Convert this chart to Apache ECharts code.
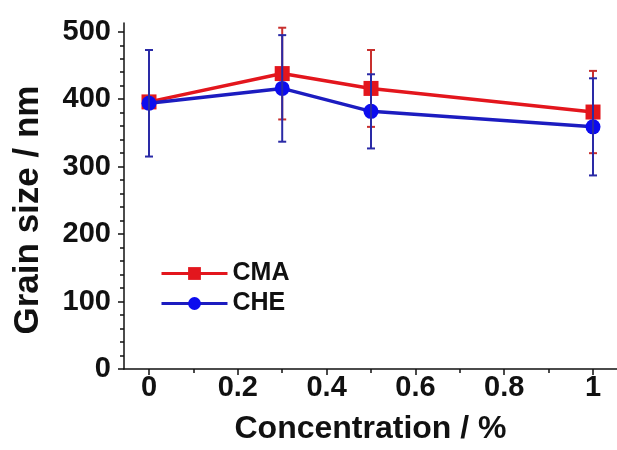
<!DOCTYPE html>
<html>
<head>
<meta charset="utf-8">
<script src="https://cdn.jsdelivr.net/npm/echarts@6/dist/echarts.min.js"></script>
<style>html,body{margin:0;padding:0;background:#fff}#c{width:617px;height:450px}</style>
</head>
<body>
<div id="c"></div>
<script>
// data
const concentration = [0, 0.3, 0.5, 1];
const cmaSize = [396, 438, 416, 381];
const cmaErr = [8, 68, 57, 61];
const cheSize = [394, 416, 382, 359];
const cheErr = [79, 79, 55, 72];
const yTicks = [0, 100, 200, 300, 400, 500];
const yMinorTicks = [20,40,60,80,120,140,160,180,220,240,260,280,320,340,360,380,420,440,460,480];
const xTicks = [0, 0.2, 0.4, 0.6, 0.8, 1];
const xMinorTicks = [0.1, 0.3, 0.5, 0.7, 0.9];

const FONT = '"Liberation Sans", Arial, sans-serif';
const RED = '#e3161d', RED_ERR = '#c8302e';
const BLUE = '#1c1cc0', BLUE_MK = '#0c0cee', BLUE_ERR = '#2a2aa6';

function errData(sizes, errs) {
  return concentration.map((x, i) => [x, sizes[i], errs[i]]);
}
function errRender(color) {
  return function (params, api) {
    const x = api.value(0), y = api.value(1), e = api.value(2);
    const top = api.coord([x, y + e]);
    const bot = api.coord([x, y - e]);
    const w = 4;
    const style = { stroke: color, lineWidth: 2 };
    return {
      type: 'group',
      children: [
        { type: 'line', shape: { x1: top[0], y1: top[1], x2: bot[0], y2: bot[1] }, style },
        { type: 'line', shape: { x1: top[0] - w, y1: top[1], x2: top[0] + w, y2: top[1] }, style },
        { type: 'line', shape: { x1: bot[0] - w, y1: bot[1], x2: bot[0] + w, y2: bot[1] }, style }
      ]
    };
  };
}

const chart = echarts.init(document.getElementById('c'), null, { renderer: 'canvas' });
const axisColor = '#111';
chart.setOption({
  animation: false,
  backgroundColor: '#fff',
  grid: { left: 124, right: 0, top: 23, bottom: 81 },
  legend: {
    data: ['CMA', 'CHE'],
    orient: 'vertical',
    left: 155, top: 256,
    itemWidth: 66, itemHeight: 16, itemGap: 5,
    lineStyle: { width: 3 },
    textStyle: { fontFamily: FONT, fontWeight: 'bold', fontSize: 25, color: '#111' }
  },
  xAxis: [{
    type: 'value', min: -0.0563, max: 1.054,
    axisLine: { onZero: false, lineStyle: { color: axisColor, width: 1.5 } },
    axisTick: { show: true, customValues: xTicks, length: 6, lineStyle: { color: axisColor, width: 1.5 } },
    axisLabel: { customValues: xTicks, margin: 4, fontFamily: FONT, fontWeight: 'bold', fontSize: 29, color: '#111' },
    splitLine: { show: false },
    name: 'Concentration / %', nameLocation: 'middle', nameGap: 44,
    nameTextStyle: { fontFamily: FONT, fontWeight: 'bold', fontSize: 32, color: '#111' }
  }, {
    type: 'value', min: -0.0563, max: 1.054, position: 'bottom',
    axisLine: { show: false, onZero: false },
    axisTick: { show: true, customValues: xMinorTicks, length: 4, lineStyle: { color: axisColor, width: 1.5 } },
    axisLabel: { show: false }, splitLine: { show: false }
  }],
  yAxis: [{
    type: 'value', min: 0, max: 513,
    axisLine: { show: true, onZero: false, lineStyle: { color: axisColor, width: 1.5 } },
    axisTick: { show: true, customValues: yTicks, length: 6, lineStyle: { color: axisColor, width: 1.5 } },
    axisLabel: { customValues: yTicks, margin: 13, fontFamily: FONT, fontWeight: 'bold', fontSize: 29, color: '#111' },
    splitLine: { show: false },
    name: 'Grain size / nm', nameLocation: 'middle', nameGap: 78, nameRotate: 90,
    nameTextStyle: { fontFamily: FONT, fontWeight: 'bold', fontSize: 35, color: '#111', padding: [0, 28, 0, 0] }
  }, {
    type: 'value', min: 0, max: 513, position: 'left',
    axisLine: { show: false, onZero: false },
    axisTick: { show: true, customValues: yMinorTicks, length: 4, lineStyle: { color: axisColor, width: 1.5 } },
    axisLabel: { show: false }, splitLine: { show: false }
  }],
  series: [
    {
      name: 'CMA', type: 'line', data: concentration.map((x, i) => [x, cmaSize[i]]),
      symbol: 'rect', symbolSize: 15,
      lineStyle: { color: RED, width: 3.5 }, itemStyle: { color: RED }, z: 2
    },
    {
      name: 'CMA err', type: 'custom', data: errData(cmaSize, cmaErr),
      renderItem: errRender(RED_ERR), z: 3
    },
    {
      name: 'CHE', type: 'line', data: concentration.map((x, i) => [x, cheSize[i]]),
      symbol: 'circle', symbolSize: 15,
      lineStyle: { color: BLUE, width: 3.5 }, itemStyle: { color: BLUE_MK }, z: 4
    },
    {
      name: 'CHE err', type: 'custom', data: errData(cheSize, cheErr),
      renderItem: errRender(BLUE_ERR), z: 5
    }
  ]
});
</script>
</body>
</html>
